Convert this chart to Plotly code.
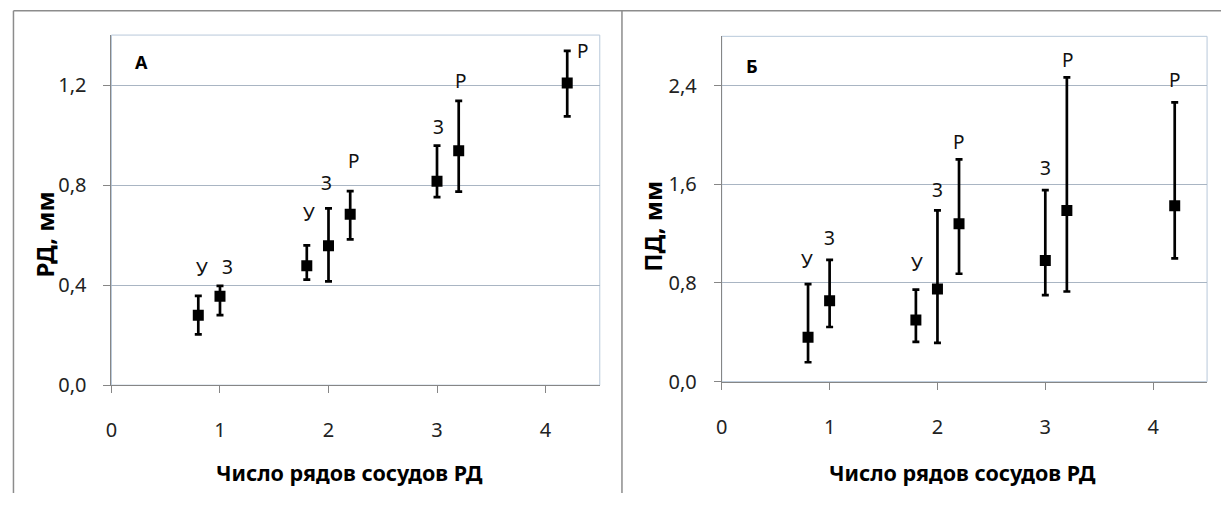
import plotly.graph_objects as go

# ---------------- data ----------------
x_pos = [0.8, 1.0, 1.8, 2.0, 2.2, 3.0, 3.2, 4.2]
point_labels = ["У", "З", "У", "З", "Р", "З", "Р", "Р"]

# Panel А: РД, мм
rd_mean = [0.28, 0.356, 0.478, 0.557, 0.683, 0.815, 0.937, 1.208]
rd_upper = [0.357, 0.397, 0.559, 0.707, 0.776, 0.958, 1.137, 1.337]
rd_lower = [0.203, 0.280, 0.422, 0.415, 0.583, 0.752, 0.774, 1.075]

# Panel Б: ПД, мм
pd_mean = [0.359, 0.655, 0.500, 0.752, 1.280, 0.982, 1.388, 1.427]
pd_upper = [0.791, 0.987, 0.746, 1.388, 1.802, 1.553, 2.467, 2.265]
pd_lower = [0.157, 0.443, 0.322, 0.314, 0.875, 0.702, 0.731, 1.000]

x_ticks = [0, 1, 2, 3, 4]
rd_ticks = [0.0, 0.4, 0.8, 1.2]
pd_ticks = [0.0, 0.8, 1.6, 2.4]

panel_letters = ["А", "Б"]
y_titles = ["РД, мм", "ПД, мм"]
x_title = "Число рядов сосудов РД"

# ---------------- style ----------------
W, H = 1221, 506
FONT = "Noto Sans"
GRID = "#a9b5c3"
FRAME = "#b9c9da"
AXIS = "#868686"

# label offsets (px) relative to top of error bar
offs_A = [(4, -27), (8, -19), (2, -31), (-2, -25), (4, -30), (1, -19), (2, -20), (16, 0)]
offs_B = [(-1, -23), (0, -22), (1, -26), (0, -20), (0, -17), (0, -22), (1, -17), (0, -22)]

fig = go.Figure()

panels = [
    dict(mean=rd_mean, up=rd_upper, lo=rd_lower, xa="x", ya="y", offs=offs_A),
    dict(mean=pd_mean, up=pd_upper, lo=pd_lower, xa="x2", ya="y2", offs=offs_B),
]

for p in panels:
    plus = [u - m for u, m in zip(p["up"], p["mean"])]
    minus = [m - l for m, l in zip(p["mean"], p["lo"])]
    fig.add_trace(go.Scatter(
        x=x_pos, y=p["mean"], mode="markers", xaxis=p["xa"], yaxis=p["ya"],
        marker=dict(symbol="square", size=11, color="black"),
        error_y=dict(type="data", array=plus, arrayminus=minus, visible=True,
                     color="black", thickness=2.7, width=3.5),
        showlegend=False, hoverinfo="skip",
    ))
    for xv, uv, lab, (dx, dy) in zip(x_pos, p["up"], point_labels, p["offs"]):
        fig.add_annotation(x=xv, y=uv, xref=p["xa"], yref=p["ya"], text=lab,
                           showarrow=False, xshift=dx, yshift=-dy,
                           font=dict(family=FONT, size=19, color="#111"),
                           xanchor="center", yanchor="middle")

dom_A_x = [106 / W, 596.7 / W]
dom_A_y = [(H - 395.3) / H, (H - 36) / H]
dom_B_x = [719.3 / W, 1207 / W]
dom_B_y = [(H - 391.7) / H, (H - 37.3) / H]

common_x = dict(range=[0, 4.5], tickvals=x_ticks, ticks="outside", ticklen=7,
                tickcolor=AXIS, showline=True, linecolor=AXIS, linewidth=1,
                showgrid=False, zeroline=False, ticklabelstandoff=20,
                tickfont=dict(family=FONT, size=20, color="#222"))
common_y = dict(ticks="outside", ticklen=7, tickcolor=AXIS, showline=True,
                linecolor=AXIS, linewidth=1, showgrid=True, gridcolor=GRID,
                gridwidth=1, zeroline=False, tickformat=".1f", ticklabelstandoff=13,
                tickfont=dict(family=FONT, size=20, color="#222"))

fig.update_layout(
    width=W, height=H, margin=dict(l=0, r=0, t=0, b=0),
    paper_bgcolor="white", plot_bgcolor="white", separators=", ",
    xaxis=dict(domain=dom_A_x, anchor="y", **common_x),
    yaxis=dict(domain=dom_A_y, anchor="x", range=[0, 1.4], tickvals=rd_ticks, **common_y),
    xaxis2=dict(domain=dom_B_x, anchor="y2", **common_x),
    yaxis2=dict(domain=dom_B_y, anchor="x2", range=[0, 2.8], tickvals=pd_ticks, **common_y),
)

# plot-area frames
for xa, ya in [("x", "y"), ("x2", "y2")]:
    fig.add_shape(type="rect", xref=f"{xa} domain", yref=f"{ya} domain",
                  x0=0, x1=1, y0=0, y1=1, line=dict(color=FRAME, width=1), layer="below")

# outer chart borders
fig.add_shape(type="line", xref="paper", yref="paper", x0=7.5 / W, x1=1, y0=(H - 11) / H, y1=(H - 11) / H,
              line=dict(color="#8c8c8c", width=1.5))
for xv in [7.5, 619]:
    fig.add_shape(type="line", xref="paper", yref="paper", x0=xv / W, x1=xv / W, y0=0, y1=(H - 11) / H,
                  line=dict(color="#8c8c8c", width=1.5))

# panel letters
for xa, ya, letter, yv in [("x", "y", panel_letters[0], 1.293), ("x2", "y2", panel_letters[1], 2.56)]:
    fig.add_annotation(x=0.28, y=yv, xref=xa, yref=ya, text=f"<b>{letter}</b>", showarrow=False,
                       xanchor="center", yanchor="middle",
                       font=dict(family=FONT, size=18, color="black"))

# axis titles
for xc, yc, t in [(39, 241, y_titles[0]), (649, 232, y_titles[1])]:
    fig.add_annotation(x=xc / W, y=(H - yc) / H, xref="paper", yref="paper", text=f"<b>{t}</b>",
                       textangle=-90, showarrow=False, xanchor="center", yanchor="middle",
                       font=dict(family=FONT, size=24, color="black"))
for xc in [345.5, 961]:
    fig.add_annotation(x=xc / W, y=(H - 485) / H, xref="paper", yref="paper", text=f"<b>{x_title}</b>",
                       showarrow=False, xanchor="center", yanchor="middle",
                       font=dict(family=FONT, size=21.5, color="black"))

fig.write_html("out.html")
